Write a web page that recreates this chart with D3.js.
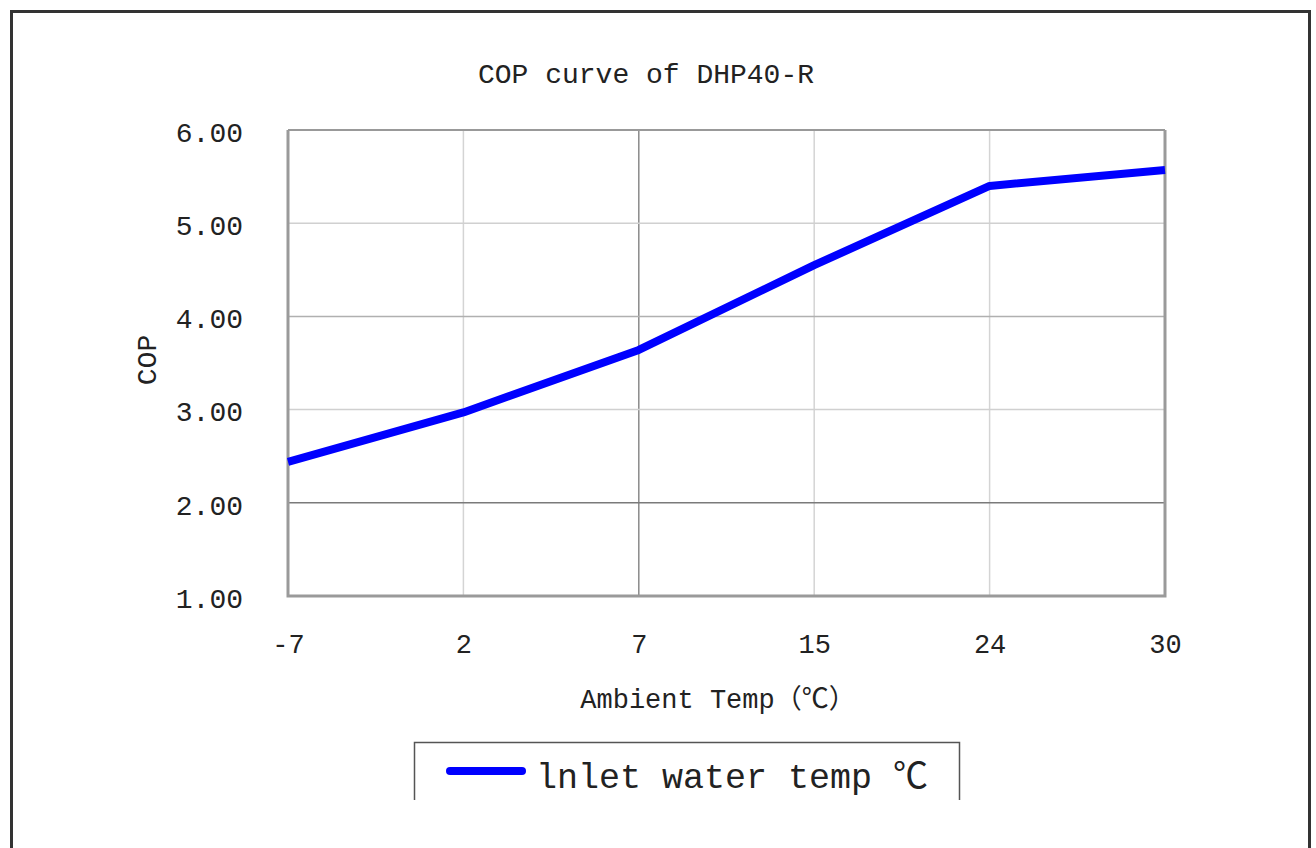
<!DOCTYPE html>
<html>
<head>
<meta charset="utf-8">
<script src="https://cdn.jsdelivr.net/npm/d3@7"></script>
<style>
  body { margin: 0; background: #fff; }
  text { font-family: "Liberation Mono", "Noto Sans CJK SC", monospace; fill: #222; }
</style>
</head>
<body>
<div id="chart"></div>
<script>
// chart data
var categories = ["-7", "2", "7", "15", "24", "30"];
var copValues = [2.44, 2.97, 3.64, 4.55, 5.40, 5.57];
var yTicks = [1, 2, 3, 4, 5, 6];
var seriesName = "lnlet water temp ℃";

// set the dimensions and margins of the graph
var W = 1316, H = 848;
var margin = {top: 130, right: 151, bottom: 252, left: 288},
    width = W - margin.left - margin.right,
    height = H - margin.top - margin.bottom;

var svg = d3.select("#chart")
    .append("svg")
    .attr("width", W)
    .attr("height", H);

// outer frame
svg.append("rect")
    .attr("x", 11.5).attr("y", 11.5)
    .attr("width", 1298).attr("height", 900)
    .attr("fill", "none")
    .attr("stroke", "#333")
    .attr("stroke-width", 3);

// title
svg.append("text")
    .text("COP curve of DHP40-R")
    .attr("x", 646).attr("y", 83)
    .attr("text-anchor", "middle")
    .style("font-size", "28px");

var g = svg.append("g")
    .attr("transform", "translate(" + margin.left + "," + margin.top + ")");

var x = d3.scalePoint()
    .domain(categories)
    .range([0, width]);

var y = d3.scaleLinear()
    .domain([1, 6])
    .range([height, 0]);

// grid lines
g.selectAll(".vgrid")
    .data(categories.slice(1, -1))
    .enter()
    .append("line")
    .attr("x1", function(d) { return x(d); })
    .attr("x2", function(d) { return x(d); })
    .attr("y1", 0).attr("y2", height)
    .attr("stroke", function(d) { return d === "7" ? "#8a8a8a" : "#d4d4d4"; })
    .attr("stroke-width", 1.5);

g.selectAll(".hgrid")
    .data(yTicks.slice(1, -1))
    .enter()
    .append("line")
    .attr("x1", 0).attr("x2", width)
    .attr("y1", function(d) { return y(d); })
    .attr("y2", function(d) { return y(d); })
    .attr("stroke", function(d) {
        if (d === 2) return "#7a7a7a";
        if (d === 4) return "#b0b0b0";
        return "#d0d0d0";
    })
    .attr("stroke-width", 1.5);

// plot border
g.append("line")
    .attr("x1", 0).attr("x2", width).attr("y1", 0).attr("y2", 0)
    .attr("stroke", "#999").attr("stroke-width", 2);
g.append("path")
    .attr("d", "M0,0V" + height + "H" + width + "V0")
    .attr("fill", "none")
    .attr("stroke", "#9a9a9a")
    .attr("stroke-width", 3);

// axes (labels only)
var yAxis = g.append("g")
    .call(d3.axisLeft(y).tickValues(yTicks).tickFormat(d3.format(".2f")).tickSize(0).tickPadding(45));
yAxis.select(".domain").remove();
yAxis.selectAll("text")
    .style("font-size", "28px")
    .style("font-family", "Liberation Mono")
    .attr("dy", "0.4em")
    .attr("fill", "#222");

var xAxis = g.append("g")
    .attr("transform", "translate(0," + height + ")")
    .call(d3.axisBottom(x).tickSize(0).tickPadding(38));
xAxis.select(".domain").remove();
xAxis.selectAll("text")
    .style("font-size", "27px")
    .style("font-family", "Liberation Mono")
    .attr("fill", "#222");

// axis titles
svg.append("text")
    .text("Ambient Temp（℃）")
    .attr("x", 718).attr("y", 708)
    .attr("text-anchor", "middle")
    .style("font-size", "27px");

svg.append("text")
    .text("COP")
    .attr("transform", "translate(156,360) rotate(-90)")
    .attr("text-anchor", "middle")
    .style("font-size", "28px");

// the curve
var line = d3.line()
    .x(function(d, i) { return x(categories[i]); })
    .y(function(d) { return y(d); });

g.append("path")
    .datum(copValues)
    .attr("d", line)
    .attr("fill", "none")
    .attr("stroke", "#0000ff")
    .attr("stroke-width", 8)
    .attr("stroke-linejoin", "round");

// legend (box cut at bottom)
var legend = svg.append("g")
    .attr("transform", "translate(414,742)");

legend.append("path")
    .attr("d", "M0.5,58V0.5H545.5V58")
    .attr("fill", "none")
    .attr("stroke", "#555")
    .attr("stroke-width", 1.5);

legend.append("line")
    .attr("x1", 36).attr("x2", 108)
    .attr("y1", 29).attr("y2", 29)
    .attr("stroke", "#0000ff")
    .attr("stroke-width", 8)
    .attr("stroke-linecap", "round");

legend.append("text")
    .text(seriesName)
    .attr("x", 122).attr("y", 46)
    .style("font-size", "35px");
</script>
</body>
</html>
